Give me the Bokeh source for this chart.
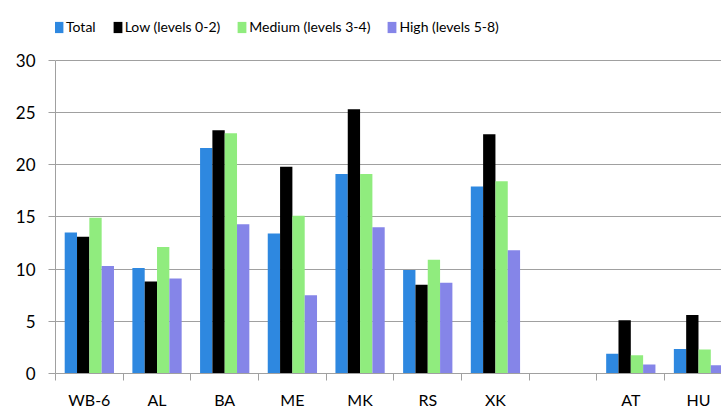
from bokeh.plotting import figure
from bokeh.models import Range1d, FixedTicker, Legend, LegendItem, ColumnDataSource
from bokeh.embed import file_html
from bokeh.resources import INLINE

categories = ["WB-6", "AL", "BA", "ME", "MK", "RS", "XK", "", "AT", "HU"]
total = [13.5, 10.1, 21.6, 13.4, 19.1, 9.9, 17.9, None, 1.9, 2.35]
low = [13.1, 8.8, 23.3, 19.8, 25.3, 8.5, 22.9, None, 5.1, 5.6]
medium = [14.9, 12.1, 23.0, 15.1, 19.1, 10.9, 18.4, None, 1.75, 2.3]
high = [10.3, 9.1, 14.3, 7.5, 14.0, 8.7, 11.8, None, 0.85, 0.8]
y_ticks = [0, 5, 10, 15, 20, 25, 30]

series_names = ["Total", "Low (levels 0-2)", "Medium (levels 3-4)", "High (levels 5-8)"]
series_values = [total, low, medium, high]
colors = ["#2E88E0", "#000000", "#90EC7E", "#8585E8"]

FONT = "Lato"
GRID = "#A0A0A0"

# the frame reaches the top of the page so that the legend sits inside it;
# the axis line is bounded to 0..30
p = figure(width=721, height=411, output_backend="svg", toolbar_location=None,
           x_range=Range1d(0, 9.84), y_range=Range1d(0, 35.71),
           min_border_left=55, min_border_right=0, min_border_top=0, min_border_bottom=36)
p.outline_line_color = None
p.xgrid.grid_line_color = None
p.ygrid.grid_line_color = GRID
p.ygrid.grid_line_width = 1

bw = 0.182
items = []
for k, (name, vals, col) in enumerate(zip(series_names, series_values, colors)):
    xs, tops = [], []
    for i, v in enumerate(vals):
        if v is None:
            continue
        xs.append(i + 0.5 + (k - 1.5) * bw)
        tops.append(v)
    src = ColumnDataSource(dict(x=xs, top=tops))
    r = p.vbar(x="x", top="top", width=bw, bottom=0, source=src,
               fill_color=col, line_color=None)
    items.append(LegendItem(label=name, renderers=[r]))

legend = Legend(items=items, orientation="horizontal", location=(-2, 338),
                padding=0, margin=0, spacing=16, label_standoff=2,
                glyph_width=11, glyph_height=14,
                border_line_color=None, background_fill_alpha=0,
                label_text_font=FONT, label_text_font_size="14px",
                label_text_color="#000000")
p.add_layout(legend, "center")

# x axis
p.xaxis.ticker = FixedTicker(ticks=[i + 0.5 for i in range(len(categories))],
                             minor_ticks=list(range(0, len(categories))))
p.xaxis.major_label_overrides = {i + 0.5: c for i, c in enumerate(categories)}
p.xaxis.major_tick_line_color = None
p.xaxis.minor_tick_line_color = GRID
p.xaxis.minor_tick_out = 7
p.xaxis.minor_tick_in = 0
p.xaxis.axis_line_color = GRID
p.xaxis.major_label_text_font = FONT
p.xaxis.major_label_text_font_size = "16px"
p.xaxis.major_label_text_color = "#000000"
p.xaxis.major_label_standoff = 9

# y axis
p.yaxis.ticker = FixedTicker(ticks=y_ticks)
p.yaxis.bounds = (y_ticks[0], y_ticks[-1])
p.yaxis.minor_tick_line_color = None
p.yaxis.major_tick_line_color = GRID
p.yaxis.major_tick_out = 7
p.yaxis.major_tick_in = 0
p.yaxis.axis_line_color = GRID
p.yaxis.major_label_text_font = FONT
p.yaxis.major_label_text_font_size = "17px"
p.yaxis.major_label_text_color = "#000000"
p.yaxis.major_label_standoff = 13

open("out.html", "w").write(file_html(p, INLINE))
